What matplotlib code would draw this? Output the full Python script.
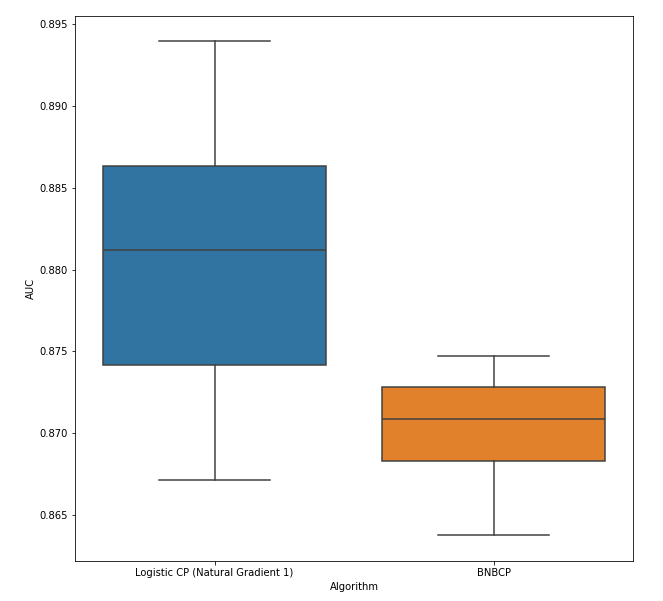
import matplotlib
matplotlib.use("Agg")
import matplotlib.pyplot as plt

algorithms = ["Logistic CP (Natural Gradient 1)", "BNBCP"]
whisker_low = [0.86714, 0.86378]
q1 = [0.87417, 0.86830]
median = [0.88119, 0.87087]
q3 = [0.88632, 0.87282]
whisker_high = [0.89396, 0.87472]
colors = ["#3274a1", "#e1812c"]

stats = []
for i, name in enumerate(algorithms):
    stats.append({"label": name, "whislo": whisker_low[i], "q1": q1[i],
                  "med": median[i], "q3": q3[i], "whishi": whisker_high[i],
                  "fliers": []})

fig = plt.figure(figsize=(663 / 72, 601 / 72), dpi=72)
ax = fig.add_axes([75 / 663, 1 - 561 / 601, 558 / 663, 545 / 601])

line_kw = dict(color="#3f3f3f", linewidth=1.5)
bp = ax.bxp(stats, positions=[0, 1], widths=0.8, patch_artist=True,
            showfliers=False, boxprops=dict(edgecolor="#3f3f3f", linewidth=1.5),
            whiskerprops=line_kw, capprops=line_kw, medianprops=line_kw,
            capwidths=0.4)
for patch, c in zip(bp["boxes"], colors):
    patch.set_facecolor(c)

ax.set_xlim(-0.5, 1.5)
ax.set_ylim(0.86219, 0.89549)
ax.set_yticks([0.865, 0.870, 0.875, 0.880, 0.885, 0.890, 0.895])
ax.set_yticklabels(["0.865", "0.870", "0.875", "0.880", "0.885", "0.890", "0.895"])
ax.set_xlabel("Algorithm")
ax.set_ylabel("AUC")

fig.savefig("out.png", dpi=72)
